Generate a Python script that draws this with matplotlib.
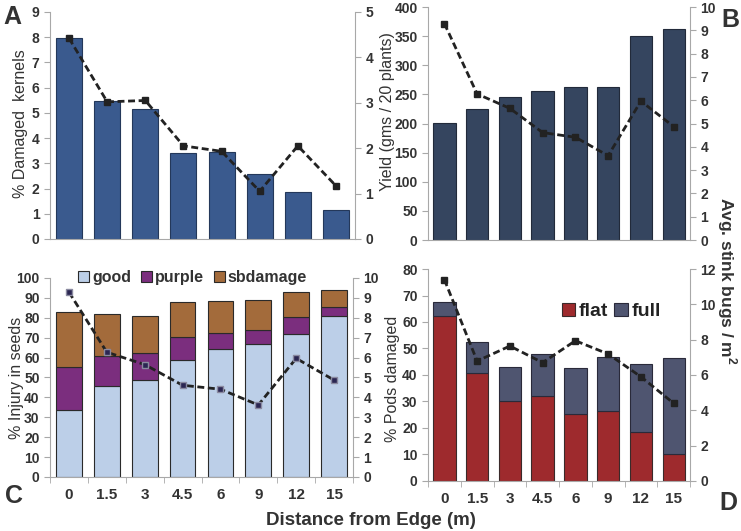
import matplotlib.pyplot as plt
import numpy as np

plt.rcParams['font.family'] = ['Liberation Sans', 'DejaVu Sans']
plt.rcParams['font.weight'] = 'bold'
plt.rcParams['mathtext.fontset'] = 'custom'
plt.rcParams['mathtext.bf'] = 'Liberation Sans:bold'
plt.rcParams['mathtext.rm'] = 'Liberation Sans:bold'

distance = ['0', '1.5', '3', '4.5', '6', '9', '12', '15']

# A: damaged kernels + bugs
damaged_kernels = [7.97, 5.45, 5.14, 3.42, 3.44, 2.56, 1.86, 1.15]
bugs_a = [4.42, 3.02, 3.05, 2.05, 1.93, 1.05, 2.05, 1.17]

# B and C: yield, seed injury + bugs
yield_gms = [201, 225, 246, 255, 263, 263, 351, 362]
bugs_bc = [9.29, 6.27, 5.65, 4.61, 4.41, 3.62, 5.96, 4.87]

good = [33.8, 45.9, 48.6, 58.6, 64.5, 66.7, 71.7, 80.9]
purple = [21.3, 15.1, 13.5, 11.6, 7.9, 7.3, 8.7, 4.5]
sbdamage = [28.0, 20.9, 18.8, 17.6, 16.2, 14.8, 12.4, 8.7]

# D: pods damaged + bugs
flat = [62.4, 40.9, 30.2, 32.1, 25.1, 26.3, 18.5, 10.2]
full = [5.0, 11.6, 12.9, 15.9, 17.6, 20.6, 25.5, 36.2]
bugs_d = [11.4, 6.79, 7.64, 6.7, 7.94, 7.19, 5.9, 4.4]

SPINE = '#a8a8a8'
TXT = '#333333'
W = 0.68
x = np.arange(len(distance))

fig = plt.figure(figsize=(7.41, 5.31), dpi=100)


def style(ax, ymax, step, xlabels, labx, laby, ylabel=None):
    ax.set_xlim(-0.5, len(distance) - 0.5)
    ax.set_ylim(0, ymax)
    ax.set_yticks(np.arange(0, ymax + step / 2, step))
    for s in ['top', 'right']:
        ax.spines[s].set_visible(False)
    for s in ['left', 'bottom']:
        ax.spines[s].set_color(SPINE)
    ax.tick_params(axis='y', colors=SPINE, labelcolor=TXT, labelsize=10, length=4)
    if xlabels:
        ax.set_xticks(x)
        ax.set_xticklabels(distance)
        ax.set_xticks(np.arange(-0.5, len(distance), 1), minor=True)
        ax.tick_params(axis='x', which='major', length=0, labelsize=11, labelcolor=TXT, pad=8)
        ax.tick_params(axis='x', which='minor', length=4, color=SPINE)
    else:
        ax.set_xticks([])
    if ylabel:
        ax.set_ylabel(ylabel, fontsize=11.5, fontweight='normal', color=TXT)
        ax.yaxis.set_label_coords(labx, laby)


def twin(ax, ymax, step, vals, ms=5, mcolor='#222222', mec='#222222'):
    t = ax.twinx()
    t.set_ylim(0, ymax)
    t.set_yticks(np.arange(0, ymax + step / 2, step))
    for s in ['top', 'left', 'bottom']:
        t.spines[s].set_visible(False)
    t.spines['right'].set_color(SPINE)
    t.tick_params(axis='y', colors=SPINE, labelcolor=TXT, labelsize=10, length=4)
    t.plot(x, vals, color='#222222', lw=2, linestyle=(0, (2.5, 1.3)),
           marker='s', markersize=ms, markerfacecolor=mcolor, markeredgecolor=mec)
    return t


# Panel A
axA = fig.add_axes([0.0675, 0.550, 0.4116, 0.4275])
axA.bar(x, damaged_kernels, W, color='#3a5a8e', edgecolor='#24385a', lw=0.8)
style(axA, 9, 1, False, -0.072, 0.51, '% Damaged  kernels')
twin(axA, 5, 1, bugs_a)

# Panel B
axB = fig.add_axes([0.5776, 0.548, 0.3536, 0.4388])
axB.bar(x, yield_gms, W, color='#35455f', edgecolor='#222a3a', lw=0.8)
style(axB, 400, 50, False, -0.126, 0.55, 'Yield (gms / 20 plants)')
twin(axB, 10, 1, bugs_bc)

# Panel C
axC = fig.add_axes([0.0675, 0.1017, 0.4089, 0.3748])
axC.bar(x, good, W, color='#bccfe8', edgecolor='#2a2a2a', lw=0.8, label='good')
axC.bar(x, purple, W, bottom=good, color='#7b2e7e', edgecolor='#2a2a2a', lw=0.8, label='purple')
axC.bar(x, sbdamage, W, bottom=np.add(good, purple), color='#a36b3b', edgecolor='#2a2a2a',
        lw=0.8, label='sbdamage')
style(axC, 100, 10, True, -0.086, 0.5, '% Injury in seeds')
axC.legend(loc='center', bbox_to_anchor=(0.47, 1.0), ncol=3, frameon=False, fontsize=11.5,
           handlelength=0.7, handleheight=0.7, handletextpad=0.2, columnspacing=0.6,
           labelcolor=TXT)
twin(axC, 10, 1, bugs_bc, ms=3.8, mcolor='#2b2652', mec='#8a8aa0')

# Panel D
axD = fig.add_axes([0.5776, 0.0942, 0.3536, 0.3992])
axD.bar(x, flat, W, color='#9e2a2d', edgecolor='#3a2a2a', lw=0.8, label='flat')
axD.bar(x, full, W, bottom=flat, color='#4f5570', edgecolor='#2a2a3a', lw=0.8, label='full')
style(axD, 80, 10, True, -0.107, 0.48, '% Pods damaged')
axD.legend(loc='center', bbox_to_anchor=(0.70, 0.80), ncol=2, frameon=False, fontsize=14,
           handlelength=0.7, handleheight=0.7, handletextpad=0.2, columnspacing=0.3,
           labelcolor='#222222')
twin(axD, 12, 2, bugs_d)

# shared labels and panel letters
fig.text(0.5, 0.02, 'Distance from Edge (m)', ha='center', va='center', fontsize=13.5, color=TXT)
fig.text(0.981, 0.471, 'Avg. stink bugs / m$^{2}$', ha='center', va='center', rotation=-90,
         fontsize=12.5, color=TXT)
for lab, px, py in [('A', 12, 17), ('B', 730, 20), ('C', 14, 496), ('D', 728, 503)]:
    fig.text(px / 741, 1 - py / 531, lab, ha='center', va='center', fontsize=18, color=TXT)

plt.savefig('out.png', dpi=100)
